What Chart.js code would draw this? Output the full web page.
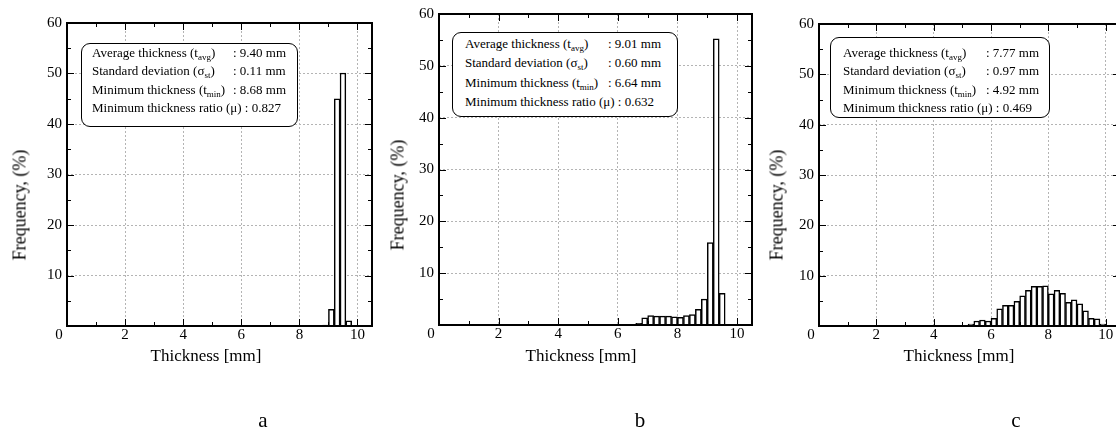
<!DOCTYPE html>
<html lang="en">
<head>
<meta charset="UTF-8">
<title>Thickness distribution</title>
<script src="https://cdn.jsdelivr.net/npm/chart.js@4.4.0/dist/chart.umd.min.js"></script>
<style>
  html, body { margin: 0; padding: 0; overflow: hidden; background: #fff; }
  body { width: 1116px; height: 435px; position: relative; font-family: "Liberation Serif", "Times New Roman", serif; color: #000; }
  canvas { position: absolute; top: 0; }
  .box { position: absolute; background: #fff; border: 1.5px solid #000; border-radius: 9px; font-size: 13px; box-sizing: border-box; white-space: nowrap; }
  .box .lab { display: inline-block; }
  .box sub { font-size: 9px; vertical-align: -3px; line-height: 0; }
  .xt { position: absolute; font-size: 17px; transform: translate(-50%, -50%); white-space: nowrap; }
  .yt { position: absolute; font-size: 18px; transform: translate(-50%, -50%) rotate(-90deg); white-space: nowrap; }
  .tag { position: absolute; font-size: 21px; transform: translate(-50%, -50%); }
</style>
</head>
<body>
<canvas id="ca"></canvas>
<canvas id="cb"></canvas>
<canvas id="cc"></canvas>
<script>
// histogram bins (centre of each 0.2 mm bin) and frequency in %
const binsA = [8.7, 8.9, 9.1, 9.3, 9.5, 9.7];
const freqA = [0.1, 0.2, 3.3, 45.0, 50.1, 1.0];

const binsB = [6.7, 6.9, 7.1, 7.3, 7.5, 7.7, 7.9, 8.1, 8.3, 8.5, 8.7, 8.9, 9.1, 9.3, 9.5, 9.7];
const freqB = [0.3, 1.4, 1.8, 1.7, 1.7, 1.7, 1.6, 1.5, 1.8, 2.0, 3.0, 5.0, 15.9, 55.2, 6.1, 0.1];

const binsC = [5.3, 5.5, 5.7, 5.9, 6.1, 6.3, 6.5, 6.7, 6.9, 7.1, 7.3, 7.5, 7.7, 7.9, 8.1, 8.3, 8.5, 8.7, 8.9, 9.1, 9.3, 9.5, 9.7, 9.9];
const freqC = [0.4, 1.0, 1.2, 1.0, 1.5, 3.4, 4.1, 4.1, 4.9, 6.0, 7.1, 7.9, 7.9, 8.0, 6.4, 7.1, 6.5, 4.7, 5.2, 4.4, 3.0, 1.5, 1.4, 0.4];

const xTicks = [0, 2, 4, 6, 8, 10];
const yTicks = [0, 10, 20, 30, 40, 50, 60];

const panelTags = ['a', 'b', 'c'];
const tAvg = ['9.40', '9.01', '7.77'];
const sigSt = ['0.11', '0.60', '0.97'];
const tMin = ['8.68', '6.64', '4.92'];
const muVal = ['0.827', '0.632', '0.469'];

const SERIF = '"Liberation Serif", "Times New Roman", serif';
Chart.defaults.font.family = SERIF;

// layout of each panel (pixels)
const panels = [
    {id: 'ca', left: 0,   width: 380, height: 356, yw: 67, top: 23, bins: binsA, freq: freqA,
     box: [81, 43, 217, 84, 10, 0, 18.3, 141], xt: [206, 356], yt: [20, 205], tag: [263, 420]},
    {id: 'cb', left: 378, width: 382, height: 355, yw: 61, top: 14, bins: binsB, freq: freqB,
     box: [452, 32, 226, 85, 12, 1, 19.3, 143], xt: [581, 356], yt: [398, 195], tag: [640, 420]},
    {id: 'cc', left: 757, width: 371, height: 356, yw: 62, top: 24, bins: binsC, freq: freqC,
     box: [830, 37, 220, 81, 12, 6, 18.3, 143], xt: [959, 356], yt: [777, 205], tag: [1016, 420]}
];

// black frame, inward ticks and the shared "0" in the corner
const frame = {
    id: 'frame',
    afterDatasetsDraw(chart) {
        const ctx = chart.ctx;
        const a = chart.chartArea;
        const x = chart.scales.x, y = chart.scales.y;
        ctx.save();
        ctx.strokeStyle = '#000';
        ctx.lineWidth = 1;
        ctx.beginPath();
        for (let v = 1; v <= 10; v++) {
            const px = Math.round(x.getPixelForValue(v)) + 0.5;
            const len = v % 2 ? 4 : 7;
            ctx.moveTo(px, a.bottom); ctx.lineTo(px, a.bottom - len);
            ctx.moveTo(px, a.top); ctx.lineTo(px, a.top + len);
        }
        for (let v = 5; v < 60; v += 5) {
            const py = Math.round(y.getPixelForValue(v)) + 0.5;
            const len = v % 10 ? 4 : 7;
            ctx.moveTo(a.left, py); ctx.lineTo(a.left + len, py);
            ctx.moveTo(a.right, py); ctx.lineTo(a.right - len, py);
        }
        ctx.stroke();
        ctx.lineWidth = 2;
        ctx.strokeRect(a.left, a.top, a.right - a.left, a.bottom - a.top);
        ctx.font = '15px ' + SERIF;
        ctx.fillStyle = '#000';
        ctx.textAlign = 'center';
        ctx.textBaseline = 'middle';
        ctx.fillText('0', a.left - 8, a.bottom + 9);
        ctx.restore();
    }
};

function addText(cls, txt, pos) {
    const d = document.createElement('div');
    d.className = cls;
    d.textContent = txt;
    d.style.left = pos[0] + 'px';
    d.style.top = pos[1] + 'px';
    document.body.appendChild(d);
}

function draw() {
    panels.forEach(function (p, i) {
        const cv = document.getElementById(p.id);
        cv.width = p.width;
        cv.height = p.height;
        cv.style.left = p.left + 'px';

        new Chart(cv, {
            type: 'bar',
            data: {
                datasets: [{
                    data: p.bins.map((b, k) => ({x: b, y: p.freq[k]})),
                    backgroundColor: '#fff',
                    borderColor: '#000',
                    borderWidth: 1.5,
                    barPercentage: 1,
                    categoryPercentage: 1
                }]
            },
            options: {
                responsive: false,
                animation: false,
                layout: {padding: {top: p.top, right: 8, left: 0, bottom: 0}},
                plugins: {legend: {display: false}, tooltip: {enabled: false}},
                scales: {
                    x: {
                        type: 'linear',
                        offset: false,
                        min: 0,
                        max: 10.5,
                        afterBuildTicks: s => { s.ticks = xTicks.map(v => ({value: v})); },
                        afterFit: s => { s.height = 30; },
                        grid: {color: '#b4b4b4', lineWidth: 1, drawTicks: false, offset: false},
                        border: {display: false, dash: [2, 2]},
                        ticks: {
                            padding: 0,
                            maxRotation: 0,
                            autoSkip: false,
                            color: '#000',
                            font: {family: SERIF, size: 15},
                            callback: v => v === 0 ? '' : String(v)
                        }
                    },
                    y: {
                        min: 0,
                        max: 60,
                        afterBuildTicks: s => { s.ticks = yTicks.map(v => ({value: v})); },
                        afterFit: s => { s.width = p.yw; },
                        grid: {color: '#b4b4b4', lineWidth: 1, drawTicks: false},
                        border: {display: false, dash: [2, 2]},
                        ticks: {
                            padding: 5,
                            color: '#000',
                            font: {family: SERIF, size: 15},
                            callback: v => v === 0 ? '' : String(v)
                        }
                    }
                }
            },
            plugins: [frame]
        });

        // statistics box
        const b = p.box;
        const box = document.createElement('div');
        box.className = 'box';
        box.style.left = b[0] + 'px';
        box.style.top = b[1] + 'px';
        box.style.width = b[2] + 'px';
        box.style.height = b[3] + 'px';
        box.style.paddingLeft = b[4] + 'px';
        box.style.paddingTop = b[5] + 'px';
        box.style.lineHeight = b[6] + 'px';
        const w = b[7] + 'px';
        box.innerHTML =
            '<div><span class="lab" style="width:' + w + '">Average thickness (t<sub>avg</sub>)</span>: ' + tAvg[i] + ' mm</div>' +
            '<div><span class="lab" style="width:' + w + '">Standard deviation (σ<sub>st</sub>)</span>: ' + sigSt[i] + ' mm</div>' +
            '<div><span class="lab" style="width:' + w + '">Minimum thickness (t<sub>min</sub>)</span>: ' + tMin[i] + ' mm</div>' +
            '<div>Minimum thickness ratio (μ) : ' + muVal[i] + '</div>';
        document.body.appendChild(box);

        addText('xt', 'Thickness [mm]', p.xt);
        addText('yt', 'Frequency, (%)', p.yt);
        addText('tag', panelTags[i], p.tag);
    });
}

if (document.fonts && document.fonts.load) {
    document.fonts.load('15px "Liberation Serif"').then(draw, draw);
} else {
    draw();
}
</script>
</body>
</html>
